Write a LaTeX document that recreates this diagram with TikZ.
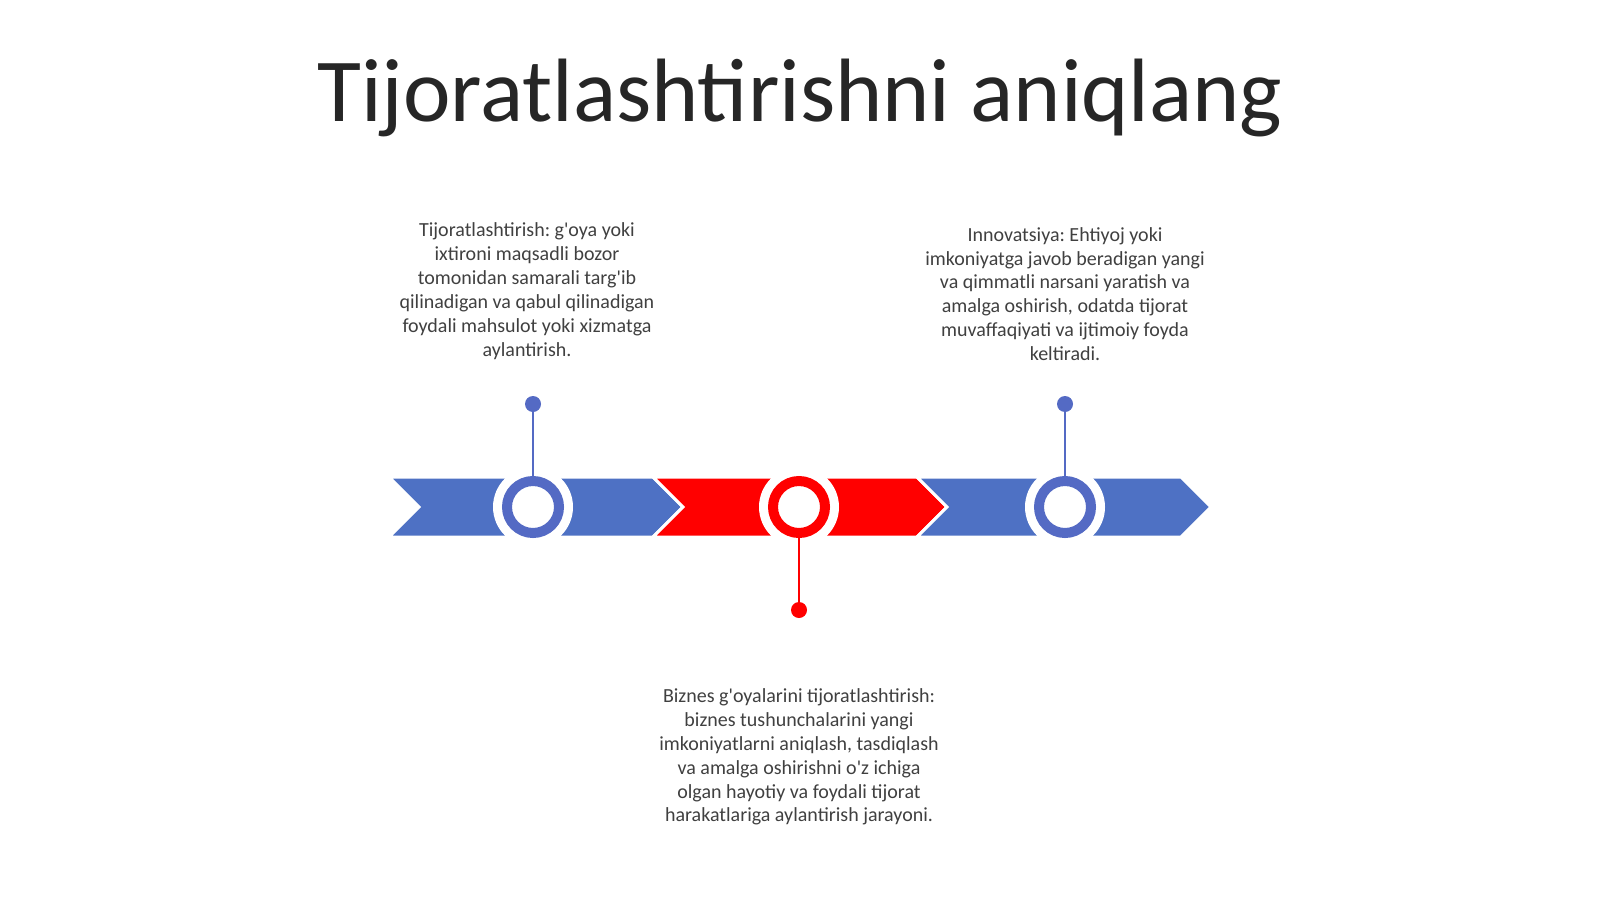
\documentclass[tikz,border=0pt]{standalone}
\usepackage{fontspec}
\setmainfont{Carlito}
\frenchspacing
\newcommand\aps{\textquotesingle}
\definecolor{chblue}{RGB}{78,113,196}
\definecolor{rgblue}{RGB}{84,106,196}
\definecolor{chred}{RGB}{255,0,0}
\definecolor{titlegray}{RGB}{38,38,38}
\definecolor{textgray}{RGB}{64,64,64}
\tikzset{
  chev/.style={draw=white,line width=3pt,line join=miter},
  halo/.style={circle,fill=white,minimum size=80pt,inner sep=0pt},
  ring/.style={circle,fill=white,draw=#1,line width=10pt,minimum size=52pt,inner sep=0pt},
  pin/.style={circle,fill=#1,minimum size=16pt,inner sep=0pt},
  stem/.style={draw=#1,line width=2.8pt},
  desc/.style={align=center,text=textgray,font=\fontsize{20}{23.9}\selectfont,inner sep=0pt}
}
\begin{document}
\begin{tikzpicture}[x=1pt,y=-1pt]
\useasboundingbox (0,0) rectangle (1600,899);
\fill[white] (0,0) rectangle (1600,899);
% title
\node[text=titlegray,font=\fontsize{90}{100}\selectfont,anchor=base] (title) at (800,121) {Tijoratlashtirishni aniqlang};
% chevrons
\foreach \x/\c in {389/chblue,653/chred,917/chblue}{
  \path[chev,fill=\c] (\x,477) -- ++(264,0) -- ++(30,30) -- ++(-30,30) -- ++(-264,0) -- ++(30,-30) -- cycle;
}
% halos
\node[halo] (h1) at (533,507) {};
\node[halo] (h2) at (799,507) {};
\node[halo] (h3) at (1065,507) {};
% pins
\node[pin=rgblue] (d1) at (533,404) {};
\node[pin=chred] (d2) at (799,610) {};
\node[pin=rgblue] (d3) at (1065,404) {};
% rings
\node[ring=rgblue] (c1) at (533,507) {};
\node[ring=chred] (c2) at (799,507) {};
\node[ring=rgblue] (c3) at (1065,507) {};
% stems
\draw[stem=rgblue] (d1) -- (c1);
\draw[stem=chred] (d2) -- (c2);
\draw[stem=rgblue] (d3) -- (c3);
% texts
\node[desc] (t1) at (527,291) {Tijoratlashtirish: g\aps oya yoki\\ixtironi maqsadli bozor\\tomonidan samarali targ\aps ib\\qilinadigan va qabul qilinadigan\\foydali mahsulot yoki xizmatga\\aylantirish.};
\node[desc] (t3) at (1065,294) {Innovatsiya: Ehtiyoj yoki\\imkoniyatga javob beradigan yangi\\va qimmatli narsani yaratish va\\amalga oshirish, odatda tijorat\\muvaffaqiyati va ijtimoiy foyda\\keltiradi.};
\node[desc] (t2) at (799,757) {Biznes g\aps oyalarini tijoratlashtirish:\\biznes tushunchalarini yangi\\imkoniyatlarni aniqlash, tasdiqlash\\va amalga oshirishni o\aps z ichiga\\olgan hayotiy va foydali tijorat\\harakatlariga aylantirish jarayoni.};
\end{tikzpicture}
\end{document}
